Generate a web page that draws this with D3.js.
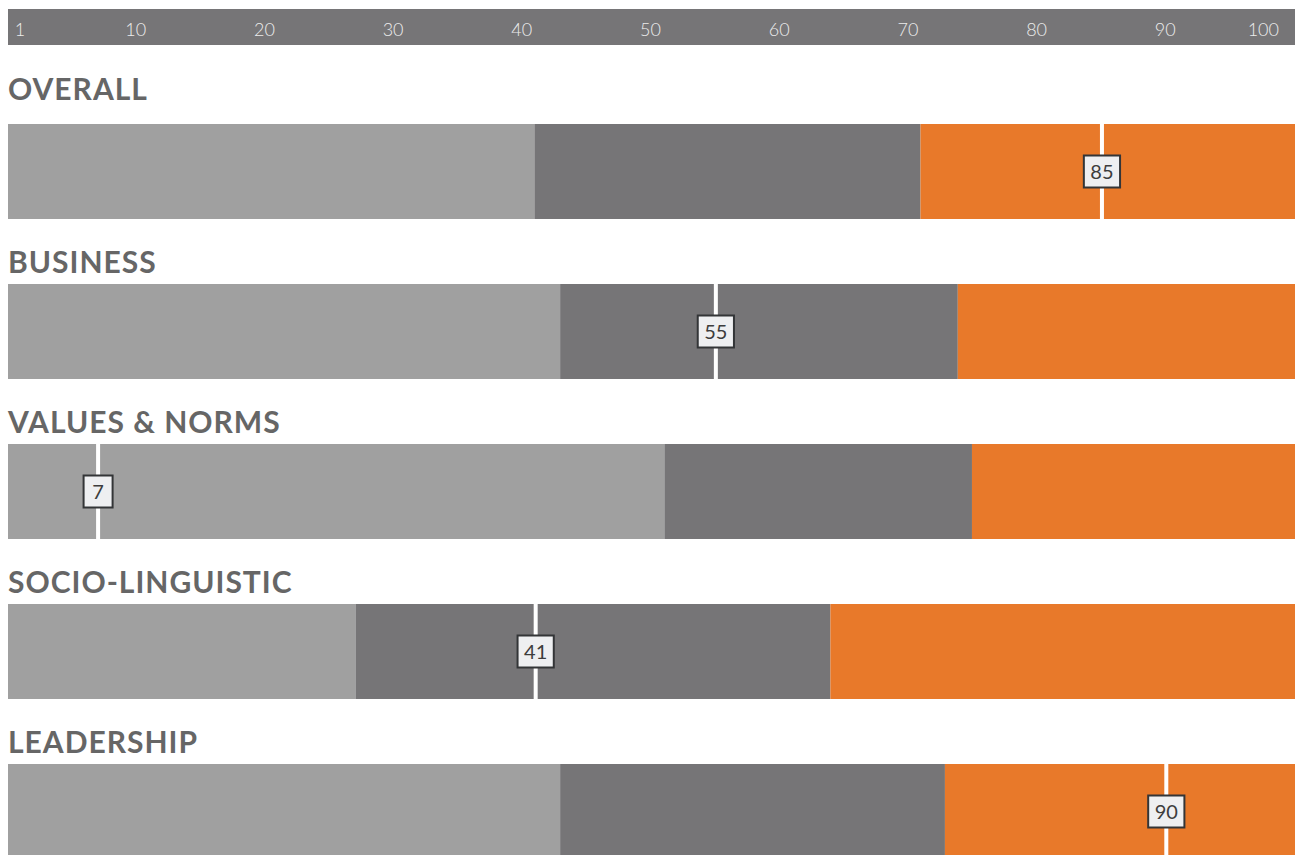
<!DOCTYPE html>
<html>
<head>
<meta charset="utf-8">
<script src="https://cdn.jsdelivr.net/npm/d3@7"></script>
<style>
  html, body { margin: 0; padding: 0; background: #fff; }
  svg { display: block; }
</style>
</head>
<body>
<svg id="chart"></svg>
<script>
// data
const categories = ["OVERALL", "BUSINESS", "VALUES & NORMS", "SOCIO-LINGUISTIC", "LEADERSHIP"];
const lowEnd  = [40.9, 42.9, 51.0, 27.0, 42.9];   // end of light grey band
const midEnd  = [70.9, 73.8, 74.9, 63.9, 72.8];   // end of dark grey band
const scores  = [85, 55, 7, 41, 90];
const tickVals = [1, 10, 20, 30, 40, 50, 60, 70, 80, 90, 100];

const W = 1296, H = 855;
const svg = d3.select("#chart").attr("width", W).attr("height", H);

// scale, 0..100 over the full bar width
let x = d3.scaleLinear().domain([0, 100]).range([8, 1295]);

const colLight = "#a0a0a0", colDark = "#767577", colOrange = "#e8792a";

// top axis strip
svg.append("rect")
   .attr("x", x(0)).attr("y", 9)
   .attr("width", x(100) - x(0)).attr("height", 36)
   .attr("fill", colDark)

svg.selectAll(".tick-label")
   .data(tickVals)
   .join("text")
   .attr("class", "tick-label")
   .attr("x", d => d == 100 ? x(d) - 16 : x(d) - 1)
   .attr("y", 36)
   .attr("text-anchor", d => d == 100 ? "end" : "middle")
   .attr("font-family", "Lato, 'Open Sans', sans-serif")
   .attr("font-weight", 300)
   .attr("font-size", 18)
   .attr("fill", "#ececec")
   .text(d => d)

// one group per category
const barH = 95;
let rows = svg.selectAll(".row")
   .data(categories)
   .join("g")
   .attr("class", "row")
   .attr("transform", (d, i) => `translate(0,${124 + i * 160})`)

rows.append("text")
   .attr("x", 8)
   .attr("y", (d, i) => i === 0 ? -24 : -11)
   .attr("font-family", "Lato, sans-serif")
   .attr("font-weight", 700)
   .attr("font-size", 30)
   .attr("letter-spacing", 1)
   .attr("fill", "#666666")
   .text(d => d)

rows.append("rect")
   .attr("x", x(0)).attr("y", 0)
   .attr("width", (d, i) => x(lowEnd[i]) - x(0))
   .attr("height", barH)
   .attr("fill", colLight)

rows.append("rect")
   .attr("x", (d, i) => x(lowEnd[i])).attr("y", 0)
   .attr("width", (d, i) => x(midEnd[i]) - x(lowEnd[i]))
   .attr("height", barH)
   .attr("fill", colDark)

rows.append("rect")
   .attr("x", (d, i) => x(midEnd[i])).attr("y", 0)
   .attr("width", (d, i) => x(100) - x(midEnd[i]))
   .attr("height", barH)
   .attr("fill", colOrange)

// score marker: white line + label box
rows.append("rect")
   .attr("x", (d, i) => x(scores[i]) - 2).attr("y", 0)
   .attr("width", 4).attr("height", barH)
   .attr("fill", "#ffffff")

rows.each(function (d, i) {
  let g = d3.select(this);
  let cx = x(scores[i]);
  let box = g.append("rect")
  let label = g.append("text")
     .attr("x", cx)
     .attr("y", barH / 2 + 7)
     .attr("text-anchor", "middle")
     .attr("font-family", "Lato, 'Open Sans', sans-serif")
     .attr("font-size", 20)
     .attr("fill", "#3d3d3d")
     .text(scores[i])
  let tw = label.node().getComputedTextLength();
  let bw = Math.max(29, tw + 13);
  box.attr("x", cx - bw / 2)
     .attr("y", barH / 2 - 16)
     .attr("width", bw).attr("height", 32)
     .attr("fill", "#eeeff1")
     .attr("stroke", "#333537")
     .attr("stroke-width", 2)
});
</script>
</body>
</html>
